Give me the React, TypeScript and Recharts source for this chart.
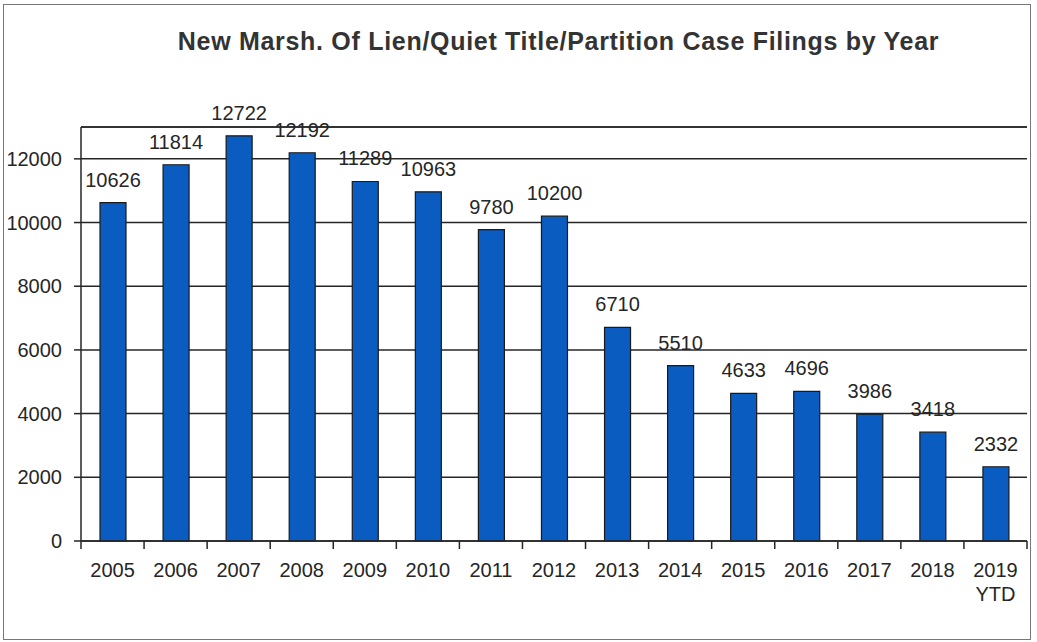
import { BarChart, Bar, XAxis, YAxis, CartesianGrid, LabelList, ReferenceLine } from 'recharts'

const years = ['2005', '2006', '2007', '2008', '2009', '2010', '2011', '2012', '2013', '2014', '2015', '2016', '2017', '2018', '2019 YTD']
const filings = [10626, 11814, 12722, 12192, 11289, 10963, 9780, 10200, 6710, 5510, 4633, 4696, 3986, 3418, 2332]
const yTicks = [0, 2000, 4000, 6000, 8000, 10000, 12000]

const data = years.map((year, i) => ({ year, filings: filings[i] }))

const W = 1037
const H = 642
const PLOT_LEFT = 81
const PLOT_RIGHT = 1027
const BAND = (PLOT_RIGHT - PLOT_LEFT) / years.length
const FONT = '"Liberation Sans", Arial, sans-serif'
const INK = '#262626'

function YearTick(props: any) {
  const { x, y, payload, index } = props
  const lines = String(payload.value).split(' ')
  return (
    <g>
      <line x1={x - BAND / 2} x2={x - BAND / 2} y1={y} y2={y + 8} stroke={INK} strokeWidth={1.5} />
      {index === years.length - 1 && (
        <line x1={x + BAND / 2} x2={x + BAND / 2} y1={y} y2={y + 8} stroke={INK} strokeWidth={1.5} />
      )}
      <text x={x} y={y + 36} textAnchor="middle" fontSize={20} fill={INK} fontFamily={FONT}>
        {lines.map((l, i) => (
          <tspan key={i} x={x} dy={i === 0 ? 0 : 24}>
            {l}
          </tspan>
        ))}
      </text>
    </g>
  )
}

export default function App() {
  return (
    <div style={{ position: 'absolute', left: 0, top: 0, width: W, height: H, background: '#fff' }}>
      <div
        style={{
          position: 'absolute',
          left: 3,
          top: 4,
          width: 1026,
          height: 634,
          border: '1.5px solid #777',
        }}
      />
      <div
        style={{
          position: 'absolute',
          left: 0,
          top: 25,
          width: W,
          textAlign: 'center',
          paddingLeft: 80,
          boxSizing: 'border-box',
          fontFamily: FONT,
          fontWeight: 'bold',
          fontSize: 25,
          letterSpacing: 0.7,
          lineHeight: '32px',
          color: '#333',
        }}
      >
        New Marsh. Of Lien/Quiet Title/Partition Case Filings by Year
      </div>
      <div style={{ position: 'absolute', left: 0, top: 0 }}>
        <BarChart
          width={W}
          height={H}
          data={data}
          margin={{ top: 127, right: W - PLOT_RIGHT, left: 0, bottom: 41 }}
          barCategoryGap={0}
        >
          <CartesianGrid horizontal vertical={false} stroke={INK} strokeWidth={1.5} strokeOpacity={1} />
          <ReferenceLine y={13000} stroke={INK} strokeWidth={1.5} />
          <XAxis
            dataKey="year"
            interval={0}
            height={60}
            tickLine={false}
            tickSize={0}
            tickMargin={0}
            axisLine={{ stroke: INK, strokeWidth: 1.5 }}
            tick={<YearTick />}
          />
          <YAxis
            width={PLOT_LEFT}
            domain={[0, 13000]}
            ticks={yTicks}
            interval={0}
            tickSize={7}
            tickMargin={12}
            tickLine={{ stroke: INK, strokeWidth: 1.5 }}
            axisLine={{ stroke: INK, strokeWidth: 1.5 }}
            tick={{ fill: INK, fontSize: 20, fontFamily: FONT }}
          />
          <YAxis
            yAxisId="right"
            orientation="right"
            width={0}
            domain={[0, 13000]}
            tick={false}
            tickLine={false}
            axisLine={{ stroke: INK, strokeWidth: 1.5 }}
          />
          <Bar dataKey="filings" barSize={26} fill="#0b5cc0" stroke="#1a1a1a" strokeWidth={1.2} isAnimationActive={false}>
            <LabelList dataKey="filings" position="top" offset={16} fill={INK} fontSize={20} fontFamily={FONT} />
          </Bar>
        </BarChart>
      </div>
    </div>
  )
}
